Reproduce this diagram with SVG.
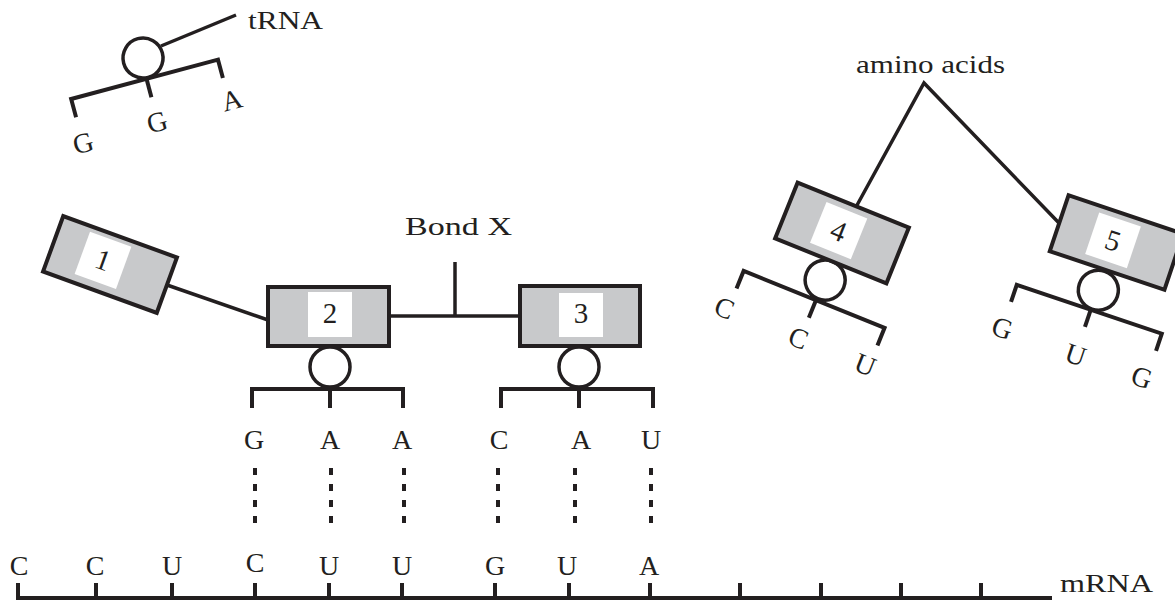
<svg xmlns="http://www.w3.org/2000/svg" width="1175" height="603" viewBox="0 0 1175 603">
<style>
.box{fill:#c8c9cb;stroke:#231f20;stroke-width:4}
.win{fill:#ffffff}
.ln{stroke:#231f20;stroke-width:3.5;fill:none}
.br{stroke:#231f20;stroke-width:4;fill:none;stroke-linejoin:miter}
.cir{fill:#ffffff;stroke:#231f20;stroke-width:3.5}
.dash{stroke:#231f20;stroke-width:4;stroke-dasharray:7 9}
.t{font-family:"Liberation Serif","Times New Roman",serif;font-size:28px;fill:#231f20;text-anchor:middle}
.lab{font-family:"Liberation Serif","Times New Roman",serif;font-size:26px;fill:#231f20}
.num{font-family:"Liberation Serif","Times New Roman",serif;font-size:29px;fill:#231f20;text-anchor:middle}
</style>
<rect width="1175" height="603" fill="#ffffff"/>

<g id="connectors">
  <line class="ln" x1="161" y1="46" x2="236" y2="15"/>
  <line class="ln" x1="167" y1="285" x2="268" y2="320"/>
  <line class="ln" x1="389" y1="316" x2="520" y2="316"/>
  <line class="ln" x1="455" y1="262" x2="455" y2="316"/>
  <polyline class="ln" points="856,207 924,83 1059,223"/>
  <g id="pairs">
    <line class="dash" x1="255" y1="468" x2="255" y2="524"/>
    <line class="dash" x1="331" y1="468" x2="331" y2="524"/>
    <line class="dash" x1="404" y1="468" x2="404" y2="524"/>
    <line class="dash" x1="498" y1="468" x2="498" y2="524"/>
    <line class="dash" x1="575" y1="468" x2="575" y2="524"/>
    <line class="dash" x1="651" y1="468" x2="651" y2="524"/>
  </g>
</g>

<g id="labels">
  <text class="lab" x="248" y="29" font-size="25" textLength="75" lengthAdjust="spacingAndGlyphs">tRNA</text>
  <text class="lab" x="458.5" y="235" font-size="27" text-anchor="middle" textLength="107" lengthAdjust="spacingAndGlyphs">Bond X</text>
  <text class="lab" x="930.5" y="73" font-size="26" text-anchor="middle" textLength="149" lengthAdjust="spacingAndGlyphs">amino acids</text>
  <text class="lab" x="1060" y="592" font-size="26" textLength="93" lengthAdjust="spacingAndGlyphs">mRNA</text>
</g>

<g id="trna-key" transform="translate(143,58) rotate(-15)">
  <circle class="cir" cx="0" cy="0" r="20"/>
  <path class="br" d="M-80 40 V21 H72 V40"/>
  <line class="br" x1="-2" y1="21" x2="-2" y2="40"/>
  <text class="t" x="-80" y="76">G</text>
  <text class="t" x="-3" y="75">G</text>
  <text class="t" x="75" y="73">A</text>
</g>

<g id="aa1" transform="translate(110,264.5) rotate(20)">
  <rect class="box" x="-60.5" y="-29.5" width="121" height="59"/>
  <rect class="win" x="-30" y="-24" width="44" height="45"/>
  <text class="num" x="-8" y="8">1</text>
</g>

<g id="trna2" transform="translate(328.5,316.5)">
  <circle class="cir" cx="1.5" cy="50.5" r="20"/>
  <rect class="box" x="-60.5" y="-29.5" width="121" height="59"/>
  <rect class="win" x="-20.5" y="-24.5" width="44" height="45"/>
  <text class="num" x="1.5" y="6">2</text>
  <path class="br" d="M-76.5 91.5 V72.5 H74.5 V91.5"/>
  <line class="br" x1="1.5" y1="72.5" x2="1.5" y2="91.5"/>
  <text class="t" x="-74.5" y="132.5">G</text>
  <text class="t" x="1.5" y="132.5">A</text>
  <text class="t" x="73.5" y="132.5">A</text>
</g>

<g id="trna3" transform="translate(580,316)">
  <circle class="cir" cx="-1" cy="51" r="20"/>
  <rect class="box" x="-60" y="-30" width="120" height="60"/>
  <rect class="win" x="-21" y="-23" width="44" height="44"/>
  <text class="num" x="1" y="7">3</text>
  <path class="br" d="M-79 92 V73 H73 V92"/>
  <line class="br" x1="-1" y1="73" x2="-1" y2="92"/>
  <text class="t" x="-81" y="133">C</text>
  <text class="t" x="1" y="133">A</text>
  <text class="t" x="71" y="133">U</text>
</g>

<g id="trna4" transform="translate(842,233) rotate(22)">
  <circle class="cir" cx="2" cy="50" r="20"/>
  <rect class="box" x="-60" y="-30" width="120" height="60"/>
  <rect class="win" x="-26" y="-23" width="44" height="44"/>
  <text class="num" x="-4" y="9">4</text>
  <path class="br" d="M-77 91 V72 H75 V91"/>
  <line class="br" x1="1" y1="72" x2="1" y2="91"/>
  <text class="t" x="-81" y="123">C</text>
  <text class="t" x="-1" y="123">C</text>
  <text class="t" x="71" y="123">U</text>
</g>

<g id="trna5" transform="translate(1116.5,242.5) rotate(18.6)">
  <circle class="cir" cx="-2" cy="51" r="20"/>
  <rect class="box" x="-60.5" y="-29.5" width="121" height="59"/>
  <rect class="win" x="-26" y="-23" width="44" height="44"/>
  <text class="num" x="-4" y="9">5</text>
  <path class="br" d="M-81 90 V72 H72 V90"/>
  <line class="br" x1="-3" y1="72" x2="-3" y2="90"/>
  <text class="t" x="-81" y="127">G</text>
  <text class="t" x="-3" y="129">U</text>
  <text class="t" x="67" y="129">G</text>
</g>

<g id="mrna">
  <path class="br" d="M18 583 V598 H1052"/>
  <g class="br">
    <line x1="96" y1="583" x2="96" y2="598"/>
    <line x1="172" y1="583" x2="172" y2="598"/>
    <line x1="255" y1="583" x2="255" y2="598"/>
    <line x1="329" y1="583" x2="329" y2="598"/>
    <line x1="402" y1="583" x2="402" y2="598"/>
    <line x1="495" y1="583" x2="495" y2="598"/>
    <line x1="569" y1="583" x2="569" y2="598"/>
    <line x1="650" y1="583" x2="650" y2="598"/>
    <line x1="740" y1="583" x2="740" y2="598"/>
    <line x1="821" y1="583" x2="821" y2="598"/>
    <line x1="901" y1="583" x2="901" y2="598"/>
    <line x1="981" y1="583" x2="981" y2="598"/>
  </g>
  <text class="t" x="19" y="575">C</text>
  <text class="t" x="95" y="575">C</text>
  <text class="t" x="172" y="575">U</text>
  <text class="t" x="255" y="572">C</text>
  <text class="t" x="329" y="575">U</text>
  <text class="t" x="402" y="575">U</text>
  <text class="t" x="495" y="575">G</text>
  <text class="t" x="567" y="575">U</text>
  <text class="t" x="649" y="575">A</text>
</g>
</svg>
